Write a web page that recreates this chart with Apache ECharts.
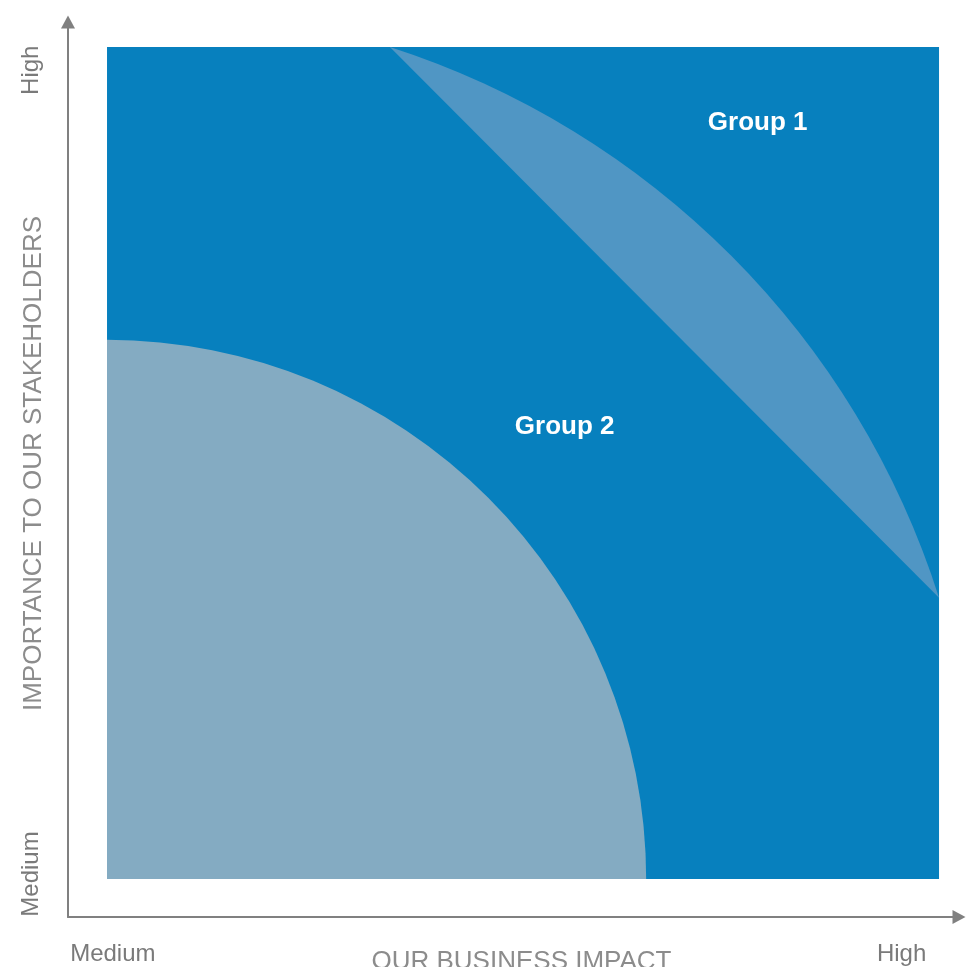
<!DOCTYPE html>
<html><head><meta charset="utf-8">
<script src="https://cdn.jsdelivr.net/npm/echarts@6/dist/echarts.min.js"></script>
<style>html,body{margin:0;padding:0;background:#fff}#c{width:966px;height:967px}</style>
</head><body><div id="c"></div>
<script>
// ---- data (axis units: 0 = Medium, 100 = High) ----
const zoneBounds = [0, 0, 100, 100];            // x1, y1, x2, y2 of the materiality field
const coreCircle = [0, 0, 64.8];                // centre x, centre y, radius
const lensChord = [34.0, 100, 100, 33.8, 102];  // x1, y1, x2, y2, arc radius
const groupNames = ['Group 1', 'Group 2'];
const groupX = [78.2, 55.0];
const groupY = [90.85, 54.35];
const xTickValues = [0.7, 95.5];
const xTickLabels = ['Medium', 'High'];
const yTickValues = [0.6, 97.2];
const yTickLabels = ['Medium', 'High'];
const xAxisTitle = 'OUR BUSINESS IMPACT';
const yAxisTitle = 'IMPORTANCE TO OUR STAKEHOLDERS';
const xLimits = [-4.69, 102.4];
const yLimits = [-4.57, 103.0];

const FONT = "'Liberation Sans', Arial, Helvetica, sans-serif";
const axisColor = '#808080';

const chart = echarts.init(document.getElementById('c'), null, {renderer: 'canvas'});

function axisCommon(limits, tickValues, tickLabels, title, isY) {
  return {
    type: 'value',
    min: limits[0],
    max: limits[1],
    splitLine: {show: false},
    axisTick: {show: false},
    axisLine: {
      show: true, onZero: false,
      symbol: ['none', 'triangle'],
      symbolSize: [14, 13],
      lineStyle: {color: axisColor, width: 2}
    },
    axisLabel: {
      customValues: tickValues,
      formatter: function (v) {
        let best = 0, d = Infinity;
        tickValues.forEach(function (t, i) { if (Math.abs(t - v) < d) { d = Math.abs(t - v); best = i; } });
        return tickLabels[best];
      },
      color: '#7a7a7a',
      fontSize: 24,
      fontFamily: FONT,
      margin: 25,
      rotate: isY ? 90 : 0
    },
    name: title,
    nameLocation: 'middle',
    nameMoveOverlap: false,
    nameGap: isY ? 21 : 32,
    nameTextStyle: {
      color: '#8c8c8c',
      fontSize: 26,
      fontFamily: FONT,
      fontWeight: 'lighter',
      padding: isY ? [0, 0, 0, 12] : [0, 0, 0, 16]
    }
  };
}

const option = {
  animation: false,
  backgroundColor: '#ffffff',
  grid: {left: 68, right: 7, top: 22, bottom: 50, containLabel: false, outerBoundsMode: 'none'},
  xAxis: axisCommon(xLimits, xTickValues, xTickLabels, xAxisTitle, false),
  yAxis: axisCommon(yLimits, yTickValues, yTickLabels, yAxisTitle, true),
  series: [
    {
      type: 'custom', silent: true,
      data: [zoneBounds],
      encode: {x: [0, 2], y: [1, 3]},
      renderItem: function (params, api) {
        const p1 = api.coord([api.value(0), api.value(3)]);
        const p2 = api.coord([api.value(2), api.value(1)]);
        return {type: 'rect', shape: {x: p1[0], y: p1[1], width: p2[0] - p1[0], height: p2[1] - p1[1]},
                style: {fill: '#0780be'}};
      }
    },
    {
      type: 'custom', silent: true,
      data: [coreCircle],
      encode: {x: 0, y: 1},
      renderItem: function (params, api) {
        const c = api.coord([api.value(0), api.value(1)]);
        const r = api.size([api.value(2), 0])[0];
        return {type: 'sector', shape: {cx: c[0], cy: c[1], r0: 0, r: r,
                startAngle: -Math.PI / 2, endAngle: 0, clockwise: true},
                style: {fill: '#84abc2'}};
      }
    },
    {
      type: 'custom', silent: true,
      data: [lensChord],
      encode: {x: [0, 2], y: [1, 3]},
      renderItem: function (params, api) {
        const p1 = api.coord([api.value(0), api.value(1)]);
        const p2 = api.coord([api.value(2), api.value(3)]);
        const r = api.size([api.value(4), 0])[0];
        const d = 'M' + p1[0] + ' ' + p1[1] + ' L' + p2[0] + ' ' + p2[1] +
                  ' A' + r + ' ' + r + ' 0 0 0 ' + p1[0] + ' ' + p1[1] + ' Z';
        return {type: 'path', shape: {pathData: d}, style: {fill: '#5096c4'}};
      }
    },
    {
      type: 'custom', silent: true,
      data: groupNames.map(function (n, i) { return [groupX[i], groupY[i], i]; }),
      encode: {x: 0, y: 1},
      renderItem: function (params, api) {
        const p = api.coord([api.value(0), api.value(1)]);
        return {type: 'text', x: p[0], y: p[1],
                style: {text: groupNames[api.value(2)], fill: '#ffffff', fontSize: 26, fontWeight: 'bold',
                        fontFamily: FONT, align: 'center', verticalAlign: 'middle'}};
      }
    }
  ]
};
chart.setOption(option);
</script>
</body></html>
